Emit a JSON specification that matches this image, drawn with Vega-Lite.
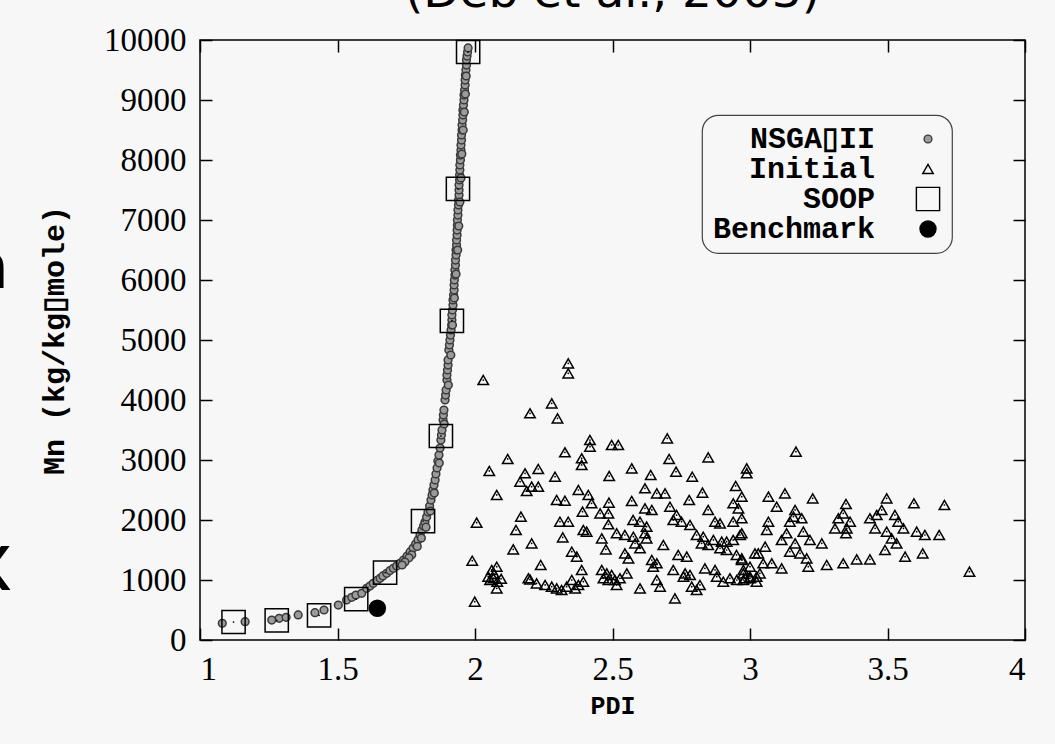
{
  "$schema": "https://vega.github.io/schema/vega-lite/v6.json",
  "width": 825,
  "height": 600,
  "autosize": {"type": "none"},
  "padding": {"left": 200, "top": 40, "right": 30, "bottom": 104},
  "background": "#f7f7f7",
  "title": {"text": "(Deb et al., 2003)", "font": "DejaVu Sans", "fontSize": 47, "fontWeight": "normal", "color": "black", "anchor": "middle", "frame": "group", "baseline": "alphabetic", "offset": -30},
  "datasets": {
    "pts": [
      {"s":"Initial","pdi":2.339,"mn":4611},{"s":"Initial","pdi":2.339,"mn":4444},{"s":"Initial","pdi":2.030,"mn":4333},{"s":"Initial","pdi":2.279,"mn":3944},{"s":"Initial","pdi":2.200,"mn":3778},{"s":"Initial","pdi":2.300,"mn":3694},{"s":"Initial","pdi":2.418,"mn":3333},{"s":"Initial","pdi":2.418,"mn":3222},{"s":"Initial","pdi":2.497,"mn":3250},{"s":"Initial","pdi":2.521,"mn":3250},
      {"s":"Initial","pdi":2.699,"mn":3361},{"s":"Initial","pdi":2.327,"mn":3128},{"s":"Initial","pdi":2.119,"mn":3017},{"s":"Initial","pdi":2.388,"mn":3028},{"s":"Initial","pdi":2.388,"mn":2917},{"s":"Initial","pdi":2.706,"mn":3017},{"s":"Initial","pdi":2.848,"mn":3044},{"s":"Initial","pdi":2.988,"mn":2861},{"s":"Initial","pdi":2.988,"mn":2778},{"s":"Initial","pdi":2.052,"mn":2817},
      {"s":"Initial","pdi":2.230,"mn":2850},{"s":"Initial","pdi":2.182,"mn":2778},{"s":"Initial","pdi":2.164,"mn":2639},{"s":"Initial","pdi":2.206,"mn":2556},{"s":"Initial","pdi":2.230,"mn":2556},{"s":"Initial","pdi":2.188,"mn":2483},{"s":"Initial","pdi":2.291,"mn":2722},{"s":"Initial","pdi":2.488,"mn":2733},{"s":"Initial","pdi":2.570,"mn":2861},{"s":"Initial","pdi":2.639,"mn":2750},
      {"s":"Initial","pdi":2.731,"mn":2806},{"s":"Initial","pdi":2.790,"mn":2722},{"s":"Initial","pdi":2.948,"mn":2567},{"s":"Initial","pdi":2.079,"mn":2417},{"s":"Initial","pdi":2.376,"mn":2500},{"s":"Initial","pdi":2.412,"mn":2417},{"s":"Initial","pdi":2.618,"mn":2528},{"s":"Initial","pdi":2.661,"mn":2444},{"s":"Initial","pdi":2.691,"mn":2444},{"s":"Initial","pdi":2.827,"mn":2456},
      {"s":"Initial","pdi":2.779,"mn":2333},{"s":"Initial","pdi":2.970,"mn":2389},{"s":"Initial","pdi":2.297,"mn":2333},{"s":"Initial","pdi":2.327,"mn":2322},{"s":"Initial","pdi":2.424,"mn":2278},{"s":"Initial","pdi":2.487,"mn":2289},{"s":"Initial","pdi":2.570,"mn":2317},{"s":"Initial","pdi":2.709,"mn":2222},{"s":"Initial","pdi":2.939,"mn":2278},{"s":"Initial","pdi":2.958,"mn":2194},
      {"s":"Initial","pdi":2.618,"mn":2194},{"s":"Initial","pdi":2.643,"mn":2167},{"s":"Initial","pdi":2.391,"mn":2139},{"s":"Initial","pdi":2.455,"mn":2111},{"s":"Initial","pdi":2.485,"mn":2111},{"s":"Initial","pdi":2.848,"mn":2167},{"s":"Initial","pdi":2.167,"mn":2056},{"s":"Initial","pdi":2.733,"mn":2083},{"s":"Initial","pdi":2.575,"mn":2000},{"s":"Initial","pdi":2.600,"mn":1972},
      {"s":"Initial","pdi":2.006,"mn":1956},{"s":"Initial","pdi":2.309,"mn":1972},{"s":"Initial","pdi":2.339,"mn":1972},{"s":"Initial","pdi":2.721,"mn":2000},{"s":"Initial","pdi":2.751,"mn":1972},{"s":"Initial","pdi":2.873,"mn":1972},{"s":"Initial","pdi":2.891,"mn":1944},{"s":"Initial","pdi":2.939,"mn":1972},{"s":"Initial","pdi":2.485,"mn":1928},{"s":"Initial","pdi":2.624,"mn":1889},
      {"s":"Initial","pdi":2.782,"mn":1917},{"s":"Initial","pdi":2.149,"mn":1833},{"s":"Initial","pdi":2.406,"mn":1806},{"s":"Initial","pdi":2.394,"mn":1833},{"s":"Initial","pdi":2.515,"mn":1778},{"s":"Initial","pdi":2.545,"mn":1750},{"s":"Initial","pdi":2.576,"mn":1722},{"s":"Initial","pdi":2.618,"mn":1778},{"s":"Initial","pdi":2.624,"mn":1694},{"s":"Initial","pdi":2.806,"mn":1750},
      {"s":"Initial","pdi":2.830,"mn":1722},{"s":"Initial","pdi":2.867,"mn":1667},{"s":"Initial","pdi":2.897,"mn":1639},{"s":"Initial","pdi":2.915,"mn":1639},{"s":"Initial","pdi":2.939,"mn":1667},{"s":"Initial","pdi":2.964,"mn":1750},{"s":"Initial","pdi":2.319,"mn":1711},{"s":"Initial","pdi":2.461,"mn":1694},{"s":"Initial","pdi":2.206,"mn":1611},{"s":"Initial","pdi":2.139,"mn":1511},
      {"s":"Initial","pdi":2.476,"mn":1511},{"s":"Initial","pdi":2.582,"mn":1611},{"s":"Initial","pdi":2.600,"mn":1528},{"s":"Initial","pdi":2.685,"mn":1583},{"s":"Initial","pdi":2.824,"mn":1611},{"s":"Initial","pdi":2.848,"mn":1583},{"s":"Initial","pdi":2.891,"mn":1528},{"s":"Initial","pdi":2.915,"mn":1500},{"s":"Initial","pdi":2.352,"mn":1472},{"s":"Initial","pdi":2.370,"mn":1389},
      {"s":"Initial","pdi":2.545,"mn":1444},{"s":"Initial","pdi":2.558,"mn":1361},{"s":"Initial","pdi":2.739,"mn":1417},{"s":"Initial","pdi":2.770,"mn":1389},{"s":"Initial","pdi":3.018,"mn":1444},{"s":"Initial","pdi":2.951,"mn":1417},{"s":"Initial","pdi":2.970,"mn":1361},{"s":"Initial","pdi":1.990,"mn":1322},{"s":"Initial","pdi":2.239,"mn":1250},{"s":"Initial","pdi":2.643,"mn":1333},
      {"s":"Initial","pdi":2.661,"mn":1278},{"s":"Initial","pdi":2.648,"mn":1222},{"s":"Initial","pdi":2.079,"mn":1222},{"s":"Initial","pdi":2.061,"mn":1167},{"s":"Initial","pdi":2.048,"mn":1056},{"s":"Initial","pdi":2.067,"mn":1028},{"s":"Initial","pdi":2.081,"mn":972},{"s":"Initial","pdi":2.079,"mn":861},{"s":"Initial","pdi":2.095,"mn":1020},{"s":"Initial","pdi":2.055,"mn":1000},
      {"s":"Initial","pdi":2.070,"mn":1100},{"s":"Initial","pdi":2.388,"mn":1167},{"s":"Initial","pdi":2.461,"mn":1167},{"s":"Initial","pdi":2.479,"mn":1111},{"s":"Initial","pdi":2.497,"mn":1083},{"s":"Initial","pdi":2.467,"mn":1028},{"s":"Initial","pdi":2.485,"mn":1000},{"s":"Initial","pdi":2.509,"mn":1000},{"s":"Initial","pdi":2.527,"mn":1028},{"s":"Initial","pdi":2.552,"mn":1111},
      {"s":"Initial","pdi":2.721,"mn":1167},{"s":"Initial","pdi":2.764,"mn":1111},{"s":"Initial","pdi":2.782,"mn":1083},{"s":"Initial","pdi":2.758,"mn":1056},{"s":"Initial","pdi":2.836,"mn":1194},{"s":"Initial","pdi":2.873,"mn":1167},{"s":"Initial","pdi":2.879,"mn":1056},{"s":"Initial","pdi":3.000,"mn":1222},{"s":"Initial","pdi":2.976,"mn":1111},{"s":"Initial","pdi":2.194,"mn":1028},
      {"s":"Initial","pdi":2.224,"mn":944},{"s":"Initial","pdi":2.255,"mn":917},{"s":"Initial","pdi":2.279,"mn":889},{"s":"Initial","pdi":2.297,"mn":861},{"s":"Initial","pdi":2.315,"mn":833},{"s":"Initial","pdi":2.333,"mn":889},{"s":"Initial","pdi":2.352,"mn":1000},{"s":"Initial","pdi":2.364,"mn":861},{"s":"Initial","pdi":2.376,"mn":917},{"s":"Initial","pdi":2.394,"mn":972},
      {"s":"Initial","pdi":2.515,"mn":917},{"s":"Initial","pdi":2.600,"mn":861},{"s":"Initial","pdi":2.661,"mn":1000},{"s":"Initial","pdi":2.673,"mn":889},{"s":"Initial","pdi":2.727,"mn":694},{"s":"Initial","pdi":2.788,"mn":889},{"s":"Initial","pdi":2.806,"mn":833},{"s":"Initial","pdi":2.818,"mn":917},{"s":"Initial","pdi":2.903,"mn":972},{"s":"Initial","pdi":2.927,"mn":1028},
      {"s":"Initial","pdi":2.952,"mn":1000},{"s":"Initial","pdi":2.976,"mn":1000},{"s":"Initial","pdi":3.000,"mn":1028},{"s":"Initial","pdi":3.024,"mn":1056},{"s":"Initial","pdi":1.999,"mn":639},{"s":"Initial","pdi":2.200,"mn":1007},{"s":"Initial","pdi":2.970,"mn":2028},{"s":"Initial","pdi":2.970,"mn":1778},
      {"s":"Initial","pdi":3.167,"mn":3139},{"s":"Initial","pdi":3.067,"mn":2389},{"s":"Initial","pdi":3.127,"mn":2444},{"s":"Initial","pdi":3.228,"mn":2361},{"s":"Initial","pdi":3.097,"mn":2222},{"s":"Initial","pdi":3.164,"mn":2167},{"s":"Initial","pdi":3.158,"mn":2056},{"s":"Initial","pdi":3.188,"mn":2028},{"s":"Initial","pdi":3.145,"mn":1972},{"s":"Initial","pdi":3.067,"mn":1972},
      {"s":"Initial","pdi":3.061,"mn":1833},{"s":"Initial","pdi":3.133,"mn":1778},{"s":"Initial","pdi":3.194,"mn":1806},{"s":"Initial","pdi":3.115,"mn":1667},{"s":"Initial","pdi":3.218,"mn":1667},{"s":"Initial","pdi":3.261,"mn":1611},{"s":"Initial","pdi":3.164,"mn":1611},{"s":"Initial","pdi":3.145,"mn":1472},{"s":"Initial","pdi":3.182,"mn":1444},{"s":"Initial","pdi":3.055,"mn":1556},
      {"s":"Initial","pdi":3.030,"mn":1444},{"s":"Initial","pdi":3.048,"mn":1278},{"s":"Initial","pdi":3.079,"mn":1278},{"s":"Initial","pdi":3.115,"mn":1194},{"s":"Initial","pdi":3.036,"mn":1111},{"s":"Initial","pdi":3.000,"mn":1056},{"s":"Initial","pdi":3.024,"mn":972},{"s":"Initial","pdi":2.970,"mn":1333},{"s":"Initial","pdi":2.976,"mn":1167},{"s":"Initial","pdi":2.982,"mn":1028},
      {"s":"Initial","pdi":3.206,"mn":1361},{"s":"Initial","pdi":3.212,"mn":1222},{"s":"Initial","pdi":3.279,"mn":1250},{"s":"Initial","pdi":3.339,"mn":1278},{"s":"Initial","pdi":3.388,"mn":1344},{"s":"Initial","pdi":3.436,"mn":1344},{"s":"Initial","pdi":3.349,"mn":2267},{"s":"Initial","pdi":3.339,"mn":2111},{"s":"Initial","pdi":3.321,"mn":2028},{"s":"Initial","pdi":3.309,"mn":1861},
      {"s":"Initial","pdi":3.352,"mn":1861},{"s":"Initial","pdi":3.349,"mn":1778},{"s":"Initial","pdi":3.364,"mn":1972},{"s":"Initial","pdi":3.497,"mn":2361},{"s":"Initial","pdi":3.479,"mn":2167},{"s":"Initial","pdi":3.461,"mn":2083},{"s":"Initial","pdi":3.436,"mn":2028},{"s":"Initial","pdi":3.527,"mn":2083},{"s":"Initial","pdi":3.539,"mn":1972},{"s":"Initial","pdi":3.455,"mn":1861},
      {"s":"Initial","pdi":3.497,"mn":1806},{"s":"Initial","pdi":3.558,"mn":1861},{"s":"Initial","pdi":3.515,"mn":1694},{"s":"Initial","pdi":3.533,"mn":1611},{"s":"Initial","pdi":3.491,"mn":1500},{"s":"Initial","pdi":3.596,"mn":2278},{"s":"Initial","pdi":3.606,"mn":1806},{"s":"Initial","pdi":3.636,"mn":1750},{"s":"Initial","pdi":3.688,"mn":1750},{"s":"Initial","pdi":3.564,"mn":1389},
      {"s":"Initial","pdi":3.628,"mn":1444},{"s":"Initial","pdi":3.707,"mn":2250},{"s":"Initial","pdi":3.798,"mn":1139},
      {"s":"NSGA▯II","pdi":1.081,"mn":278},{"s":"NSGA▯II","pdi":1.164,"mn":305},{"s":"NSGA▯II","pdi":1.261,"mn":333},{"s":"NSGA▯II","pdi":1.288,"mn":362},{"s":"NSGA▯II","pdi":1.313,"mn":378},{"s":"NSGA▯II","pdi":1.357,"mn":417},{"s":"NSGA▯II","pdi":1.418,"mn":455},{"s":"NSGA▯II","pdi":1.451,"mn":500},{"s":"NSGA▯II","pdi":1.503,"mn":583},{"s":"NSGA▯II","pdi":1.533,"mn":667},
      {"s":"NSGA▯II","pdi":1.552,"mn":712},{"s":"NSGA▯II","pdi":1.567,"mn":750},{"s":"NSGA▯II","pdi":1.588,"mn":778},{"s":"NSGA▯II","pdi":1.606,"mn":862},{"s":"NSGA▯II","pdi":1.618,"mn":900},{"s":"NSGA▯II","pdi":1.630,"mn":945},{"s":"NSGA▯II","pdi":1.644,"mn":992},{"s":"NSGA▯II","pdi":1.655,"mn":1028},{"s":"NSGA▯II","pdi":1.665,"mn":1067},{"s":"NSGA▯II","pdi":1.679,"mn":1112},
      {"s":"NSGA▯II","pdi":1.691,"mn":1158},{"s":"NSGA▯II","pdi":1.703,"mn":1195},{"s":"NSGA▯II","pdi":1.715,"mn":1233},{"s":"NSGA▯II","pdi":1.727,"mn":1278},{"s":"NSGA▯II","pdi":1.740,"mn":1333},{"s":"NSGA▯II","pdi":1.753,"mn":1400},{"s":"NSGA▯II","pdi":1.764,"mn":1467},{"s":"NSGA▯II","pdi":1.775,"mn":1533},{"s":"NSGA▯II","pdi":1.784,"mn":1600},{"s":"NSGA▯II","pdi":1.793,"mn":1667},
      {"s":"NSGA▯II","pdi":1.800,"mn":1750},{"s":"NSGA▯II","pdi":1.807,"mn":1833},{"s":"NSGA▯II","pdi":1.813,"mn":1900},{"s":"NSGA▯II","pdi":1.818,"mn":1967},{"s":"NSGA▯II","pdi":1.824,"mn":2050},{"s":"NSGA▯II","pdi":1.829,"mn":2133},{"s":"NSGA▯II","pdi":1.835,"mn":2233},{"s":"NSGA▯II","pdi":1.840,"mn":2333},{"s":"NSGA▯II","pdi":1.844,"mn":2417},{"s":"NSGA▯II","pdi":1.847,"mn":2500},
      {"s":"NSGA▯II","pdi":1.851,"mn":2583},{"s":"NSGA▯II","pdi":1.855,"mn":2667},{"s":"NSGA▯II","pdi":1.858,"mn":2767},{"s":"NSGA▯II","pdi":1.862,"mn":2867},{"s":"NSGA▯II","pdi":1.865,"mn":2983},{"s":"NSGA▯II","pdi":1.869,"mn":3083},{"s":"NSGA▯II","pdi":1.873,"mn":3200},{"s":"NSGA▯II","pdi":1.876,"mn":3333},{"s":"NSGA▯II","pdi":1.878,"mn":3417},{"s":"NSGA▯II","pdi":1.880,"mn":3500},
      {"s":"NSGA▯II","pdi":1.884,"mn":3667},{"s":"NSGA▯II","pdi":1.885,"mn":3750},{"s":"NSGA▯II","pdi":1.887,"mn":3833},{"s":"NSGA▯II","pdi":1.891,"mn":4000},{"s":"NSGA▯II","pdi":1.893,"mn":4083},{"s":"NSGA▯II","pdi":1.895,"mn":4167},{"s":"NSGA▯II","pdi":1.898,"mn":4333},{"s":"NSGA▯II","pdi":1.898,"mn":4417},{"s":"NSGA▯II","pdi":1.900,"mn":4500},{"s":"NSGA▯II","pdi":1.902,"mn":4583},
      {"s":"NSGA▯II","pdi":1.902,"mn":4667},{"s":"NSGA▯II","pdi":1.905,"mn":4833},{"s":"NSGA▯II","pdi":1.907,"mn":4917},{"s":"NSGA▯II","pdi":1.909,"mn":5000},{"s":"NSGA▯II","pdi":1.911,"mn":5083},{"s":"NSGA▯II","pdi":1.913,"mn":5167},{"s":"NSGA▯II","pdi":1.915,"mn":5250},{"s":"NSGA▯II","pdi":1.916,"mn":5333},{"s":"NSGA▯II","pdi":1.916,"mn":5417},{"s":"NSGA▯II","pdi":1.918,"mn":5500},
      {"s":"NSGA▯II","pdi":1.920,"mn":5583},{"s":"NSGA▯II","pdi":1.920,"mn":5667},{"s":"NSGA▯II","pdi":1.922,"mn":5750},{"s":"NSGA▯II","pdi":1.924,"mn":5833},{"s":"NSGA▯II","pdi":1.924,"mn":5917},{"s":"NSGA▯II","pdi":1.925,"mn":6000},{"s":"NSGA▯II","pdi":1.927,"mn":6083},{"s":"NSGA▯II","pdi":1.927,"mn":6167},{"s":"NSGA▯II","pdi":1.929,"mn":6250},{"s":"NSGA▯II","pdi":1.929,"mn":6333},
      {"s":"NSGA▯II","pdi":1.931,"mn":6417},{"s":"NSGA▯II","pdi":1.931,"mn":6500},{"s":"NSGA▯II","pdi":1.933,"mn":6583},{"s":"NSGA▯II","pdi":1.933,"mn":6667},{"s":"NSGA▯II","pdi":1.935,"mn":6750},{"s":"NSGA▯II","pdi":1.935,"mn":6833},{"s":"NSGA▯II","pdi":1.936,"mn":6917},{"s":"NSGA▯II","pdi":1.936,"mn":7000},{"s":"NSGA▯II","pdi":1.938,"mn":7083},{"s":"NSGA▯II","pdi":1.938,"mn":7167},
      {"s":"NSGA▯II","pdi":1.940,"mn":7250},{"s":"NSGA▯II","pdi":1.940,"mn":7333},{"s":"NSGA▯II","pdi":1.942,"mn":7417},{"s":"NSGA▯II","pdi":1.942,"mn":7500},{"s":"NSGA▯II","pdi":1.942,"mn":7583},{"s":"NSGA▯II","pdi":1.944,"mn":7667},{"s":"NSGA▯II","pdi":1.944,"mn":7750},{"s":"NSGA▯II","pdi":1.945,"mn":7833},{"s":"NSGA▯II","pdi":1.945,"mn":7917},{"s":"NSGA▯II","pdi":1.947,"mn":8000},
      {"s":"NSGA▯II","pdi":1.947,"mn":8083},{"s":"NSGA▯II","pdi":1.949,"mn":8167},{"s":"NSGA▯II","pdi":1.949,"mn":8250},{"s":"NSGA▯II","pdi":1.951,"mn":8333},{"s":"NSGA▯II","pdi":1.951,"mn":8417},{"s":"NSGA▯II","pdi":1.953,"mn":8500},{"s":"NSGA▯II","pdi":1.953,"mn":8583},{"s":"NSGA▯II","pdi":1.955,"mn":8667},{"s":"NSGA▯II","pdi":1.956,"mn":8750},{"s":"NSGA▯II","pdi":1.956,"mn":8833},
      {"s":"NSGA▯II","pdi":1.958,"mn":8917},{"s":"NSGA▯II","pdi":1.960,"mn":9000},{"s":"NSGA▯II","pdi":1.960,"mn":9083},{"s":"NSGA▯II","pdi":1.962,"mn":9167},{"s":"NSGA▯II","pdi":1.964,"mn":9250},{"s":"NSGA▯II","pdi":1.964,"mn":9333},{"s":"NSGA▯II","pdi":1.965,"mn":9417},{"s":"NSGA▯II","pdi":1.967,"mn":9500},{"s":"NSGA▯II","pdi":1.969,"mn":9583},{"s":"NSGA▯II","pdi":1.969,"mn":9667},
      {"s":"NSGA▯II","pdi":1.971,"mn":9733},{"s":"NSGA▯II","pdi":1.973,"mn":9800},{"s":"NSGA▯II","pdi":1.975,"mn":9867},
      {"s":"NSGA▯II","pdi":1.903,"mn":4250},{"s":"NSGA▯II","pdi":1.912,"mn":4750},{"s":"NSGA▯II","pdi":1.918,"mn":5250},{"s":"NSGA▯II","pdi":1.925,"mn":5700},{"s":"NSGA▯II","pdi":1.931,"mn":6100},{"s":"NSGA▯II","pdi":1.937,"mn":6500},{"s":"NSGA▯II","pdi":1.941,"mn":6900},{"s":"NSGA▯II","pdi":1.945,"mn":7300},{"s":"NSGA▯II","pdi":1.949,"mn":7700},{"s":"NSGA▯II","pdi":1.952,"mn":8100},
      {"s":"NSGA▯II","pdi":1.957,"mn":8500},{"s":"NSGA▯II","pdi":1.961,"mn":8800},{"s":"NSGA▯II","pdi":1.965,"mn":9100},{"s":"NSGA▯II","pdi":1.968,"mn":9400},{"s":"NSGA▯II","pdi":1.888,"mn":3600},{"s":"NSGA▯II","pdi":1.870,"mn":2950},{"s":"NSGA▯II","pdi":1.852,"mn":2450},{"s":"NSGA▯II","pdi":1.838,"mn":2150},{"s":"NSGA▯II","pdi":1.822,"mn":1880},{"s":"NSGA▯II","pdi":1.805,"mn":1700},
      {"s":"NSGA▯II","pdi":1.790,"mn":1560},{"s":"NSGA▯II","pdi":1.770,"mn":1420},{"s":"NSGA▯II","pdi":1.760,"mn":1370},{"s":"NSGA▯II","pdi":1.745,"mn":1300},{"s":"NSGA▯II","pdi":1.735,"mn":1250},
      {"s":"SOOP","pdi":1.122,"mn":300},{"s":"SOOP","pdi":1.279,"mn":328},{"s":"SOOP","pdi":1.433,"mn":412},{"s":"SOOP","pdi":1.568,"mn":683},{"s":"SOOP","pdi":1.673,"mn":1122},{"s":"SOOP","pdi":1.811,"mn":1983},{"s":"SOOP","pdi":1.876,"mn":3400},{"s":"SOOP","pdi":1.916,"mn":5320},{"s":"SOOP","pdi":1.938,"mn":7520},{"s":"SOOP","pdi":1.975,"mn":9800},
      {"s":"Benchmark","pdi":1.645,"mn":530}
    ]
  },
  "layer": [
    {
      "data": {"values": [{"t": "n"}]},
      "mark": {"type": "text", "font": "DejaVu Sans", "fontSize": 62, "align": "right", "baseline": "alphabetic", "color": "black"},
      "encoding": {
        "x": {"datum": 0.305, "type": "quantitative", "axis": null},
        "y": {"datum": 5867, "type": "quantitative", "axis": null},
        "text": {"field": "t"}
      }
    },
    {
      "data": {"values": [{"t": "x"}]},
      "mark": {"type": "text", "font": "DejaVu Sans", "fontSize": 80, "align": "right", "baseline": "alphabetic", "color": "black"},
      "encoding": {
        "x": {"datum": 0.32, "type": "quantitative", "axis": null},
        "y": {"datum": 833, "type": "quantitative", "axis": null},
        "text": {"field": "t"}
      }
    },
    {
      "data": {"name": "pts"},
      "mark": {"type": "point", "filled": true, "opacity": 1, "strokeWidth": 1.5},
      "encoding": {
        "x": {"field": "pdi", "type": "quantitative", "scale": {"domain": [1, 4], "nice": false, "zero": false},
              "axis": {"orient": "bottom", "values": [1, 1.5, 2, 2.5, 3, 3.5, 4], "format": "~g", "title": "PDI", "titleFontSize": 25, "titlePadding": 7}},
        "y": {"field": "mn", "type": "quantitative", "scale": {"domain": [0, 10000], "nice": false, "zero": false},
              "axis": {"orient": "left", "values": [0, 1000, 2000, 3000, 4000, 5000, 6000, 7000, 8000, 9000, 10000], "format": "d", "title": "Mn  (kg/kg▯mole)"}},
        "shape": {"field": "s", "type": "nominal", "scale": {"domain": ["NSGA▯II", "Initial", "SOOP", "Benchmark"], "range": ["circle", "triangle-up", "square", "circle"]}, "legend": {"title": null}},
        "size": {"field": "s", "type": "nominal", "scale": {"type": "ordinal", "domain": ["NSGA▯II", "Initial", "SOOP", "Benchmark"], "range": [60, 110, 540, 255]}, "legend": {"title": null}},
        "fill": {"field": "s", "type": "nominal", "scale": {"domain": ["NSGA▯II", "Initial", "SOOP", "Benchmark"], "range": ["#9b9b9b", "transparent", "transparent", "#000000"]}, "legend": {"title": null}},
        "stroke": {"field": "s", "type": "nominal", "scale": {"domain": ["NSGA▯II", "Initial", "SOOP", "Benchmark"], "range": ["#3a3a3a", "#000000", "#000000", "#000000"]}, "legend": {"title": null}}
      }
    },
    {
      "data": {"name": "pts"},
      "transform": [{"filter": "datum.s == 'Initial' || datum.s == 'SOOP'"}],
      "mark": {"type": "point", "filled": true, "opacity": 1, "size": 3, "color": "#000000"},
      "encoding": {
        "x": {"field": "pdi", "type": "quantitative", "axis": {"orient": "top", "values": [1, 1.5, 2, 2.5, 3, 3.5, 4], "labels": false, "title": null}},
        "y": {"field": "mn", "type": "quantitative", "axis": {"orient": "right", "values": [0, 1000, 2000, 3000, 4000, 5000, 6000, 7000, 8000, 9000, 10000], "labels": false, "title": null}}
      }
    }
  ],
  "config": {
    "view": {"stroke": "#000000", "strokeWidth": 1.5, "fill": null},
    "axis": {"domain": false, "grid": false, "ticks": true, "tickSize": -12, "tickColor": "#000000", "tickWidth": 1.5,
             "labelFont": "Liberation Serif", "labelFontSize": 33, "labelColor": "#000000",
             "titleFont": "Liberation Mono", "titleFontWeight": "bold", "titleFontSize": 30, "titleColor": "#000000", "zindex": 1},
    "axisX": {"labelPadding": 25, "titlePadding": 7},
    "axisY": {"labelPadding": 26, "titlePadding": 34},
    "legend": {"orient": "none", "legendX": 502, "legendY": 75, "labelFont": "Liberation Mono", "labelFontWeight": "bold", "labelFontSize": 30, "labelColor": "#000000", "labelLimit": 400,
               "labelAlign": "right", "labelOffset": -68, "symbolOffset": 202, "strokeColor": "#444444", "strokeWidth": 1.2, "cornerRadius": 16, "padding": 9, "rowPadding": -3, "symbolStrokeWidth": 1.4, "fillColor": "#f7f7f7"}
  }
}
